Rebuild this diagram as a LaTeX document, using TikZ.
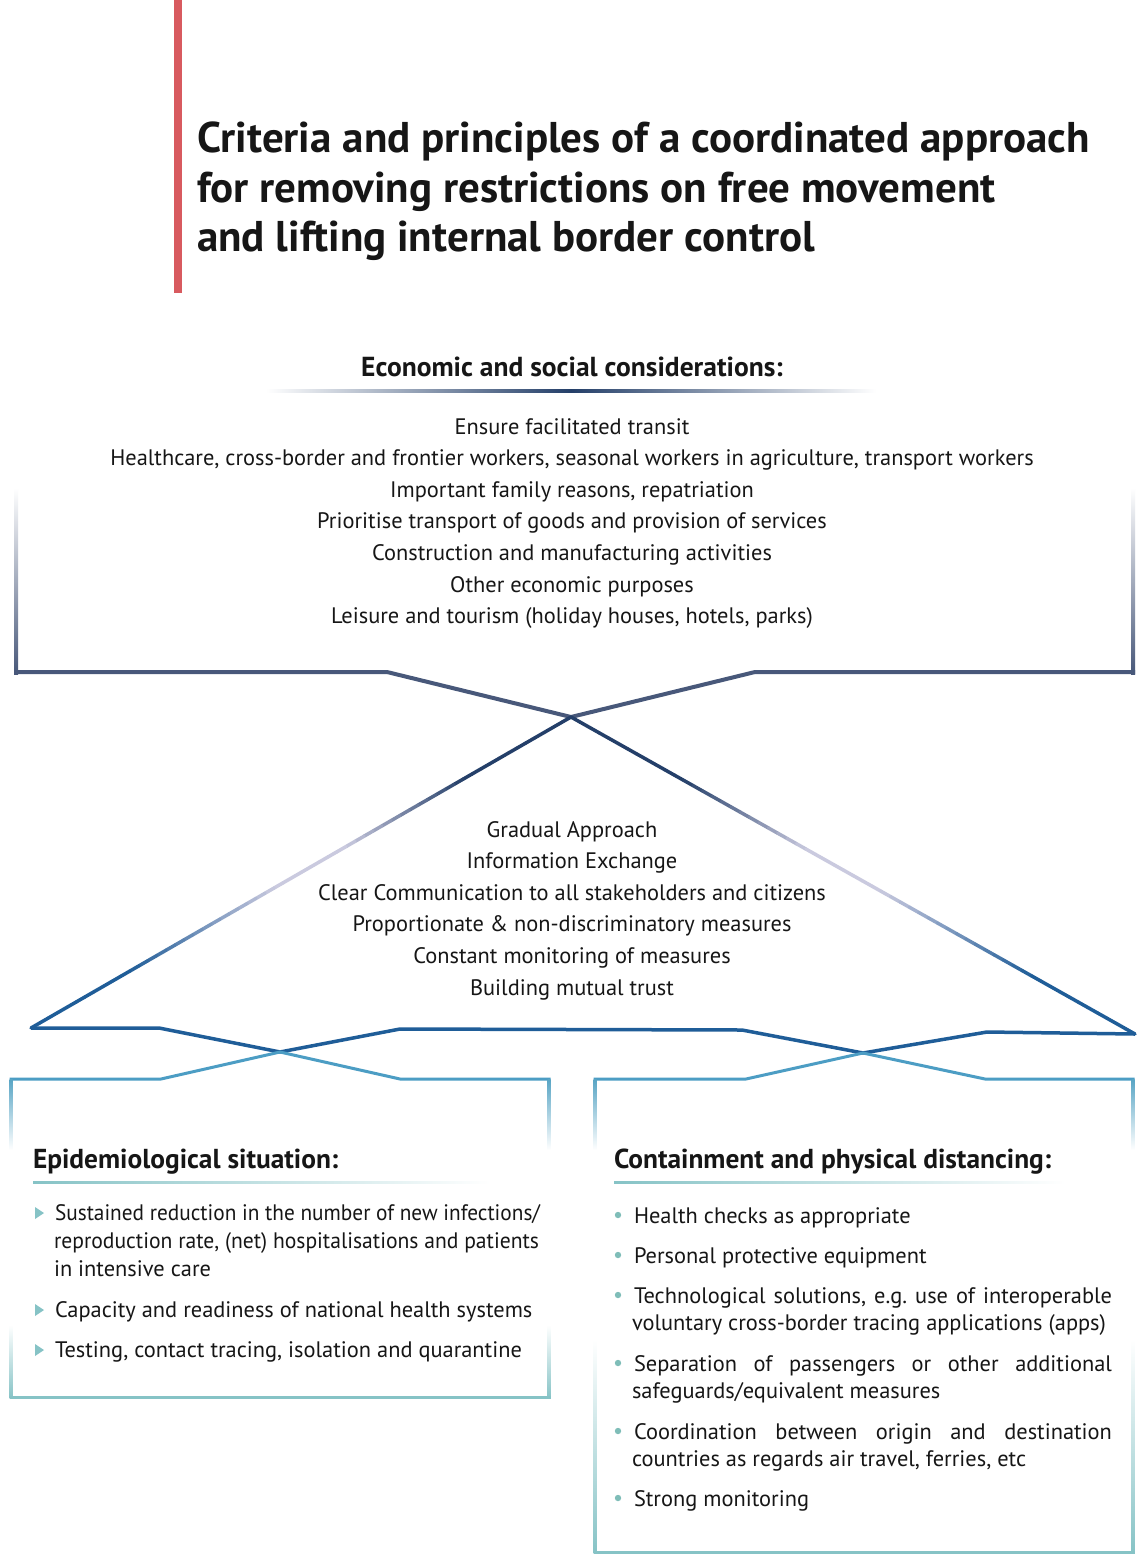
\documentclass[tikz,border=0pt]{standalone}
\usepackage{fontspec}
\usepackage{graphicx}
\setmainfont{PT Sans}
\usetikzlibrary{calc}
\frenchspacing
\definecolor{ink}{HTML}{161616}
\definecolor{redbar}{HTML}{D85A5F}
\definecolor{slate}{HTML}{48587A}
\definecolor{navyc}{HTML}{243F69}
\definecolor{lavc}{HTML}{CACADF}
\definecolor{blueT}{HTML}{1F5D98}
\definecolor{boxblue}{HTML}{4C9DC4}
\definecolor{boxteal}{HTML}{86C3C6}
\definecolor{bteal}{HTML}{7FBDB8}
\newcommand{\gradseg}[2]{%
  \foreach \i in {1,...,60}{%
    \pgfmathsetmacro\ta{(\i-1)/60}%
    \pgfmathsetmacro\tb{\i/60}%
    \pgfmathsetmacro\tm{(\i-0.5)/60}%
    \pgfmathsetmacro\pn{\tm<0.2 ? 100 : (\tm<0.42 ? 100-454.5*(\tm-0.2) : 0)}%
    \pgfmathsetmacro\pb{\tm<0.55 ? 0 : (\tm<0.82 ? 370*(\tm-0.55) : 100)}%
    \colorlet{tmpc}{navyc!\pn!lavc}%
    \colorlet{segc}{blueT!\pb!tmpc}%
    \draw[segc, line width=3.5pt, line cap=round] ($(#1)!\ta!(#2)$) -- ($(#1)!\tb!(#2)$);
  }}
\begin{document}
\begin{tikzpicture}[x=1pt,y=-1pt,
  every node/.style={inner sep=0pt, outer sep=0pt, text=ink},
  titletext/.style={font=\fontsize{43}{50}\selectfont\bfseries, anchor=base west},
  tophead/.style={font=\fontsize{27.5}{32}\selectfont\bfseries, anchor=base},
  item/.style={font=\fontsize{22.4}{26}\selectfont, anchor=base},
  boxhead/.style={font=\fontsize{27.4}{32}\selectfont\bfseries, anchor=base west},
  btext/.style={font=\fontsize{22.4}{26}\selectfont, anchor=base west},
  topline/.style={slate, line width=4pt, line join=miter},
  triline/.style={blueT, line width=3.5pt, line join=round},
  boxline/.style={boxblue, line width=3pt, line join=miter},
  tealline/.style={boxteal, line width=3pt}]
\useasboundingbox[fill=white] (0,0) rectangle (1144,1559);

% red bar and title
\fill[redbar] (174,0) rectangle (182,293);
\node[titletext] (t1) at (197,152) {Criteria and principles of a coordinated approach};
\node[titletext] (t2) at (197,202) {for removing restrictions on free movement};
\node[titletext] (t3) at (197,251) {and lifting internal border control};

% top section
\node[tophead] (eh) at (572,376) {Economic and social considerations:};
\shade[left color=white, right color=white, middle color=navyc] (266,389.5) rectangle (876,392);
\node[item] (e1) at (572,434) {Ensure facilitated transit};
\node[item] (e2) at (572,465.6) {Healthcare, cross-border and frontier workers, seasonal workers in agriculture, transport workers};
\node[item] (e3) at (572,497.2) {Important family reasons, repatriation};
\node[item] (e4) at (572,528.8) {Prioritise transport of goods and provision of services};
\node[item] (e5) at (572,560.4) {Construction and manufacturing activities};
\node[item] (e6) at (572,592) {Other economic purposes};
\node[item] (e7) at (572,623.6) {Leisure and tourism (holiday houses, hotels, parks)};

% top box
\coordinate (tlb) at (387,672);
\coordinate (x1) at (571,717);
\coordinate (trb) at (755,672);
\shade[top color=white, bottom color=slate] (14,488) rectangle (18,674);
\shade[top color=white, bottom color=slate] (1131,488) rectangle (1135,674);
\draw[topline] (14,672) -- (tlb) -- (x1) -- (trb) -- (1135,672);

% triangle
\coordinate (lc) at (31,1028);
\coordinate (rc) at (1135,1034);
\gradseg{x1}{lc}
\gradseg{x1}{rc}
\coordinate (b1) at (159,1028);
\coordinate (x2) at (280,1052);
\coordinate (b2) at (400,1029);
\coordinate (b3) at (742,1030);
\coordinate (x3) at (863,1053);
\coordinate (b4) at (987,1032);
\draw[triline] (lc) -- (b1) -- (x2) -- (b2) -- (b3) -- (x3) -- (b4) -- (rc);

\node[item] (m1) at (572,837) {Gradual Approach};
\node[item] (m2) at (572,868.6) {Information Exchange};
\node[item] (m3) at (572,900.2) {Clear Communication to all stakeholders and citizens};
\node[item] (m4) at (572,931.8) {Proportionate \& non-discriminatory measures};
\node[item] (m5) at (572,963.4) {Constant monitoring of measures};
\node[item] (m6) at (572,995) {Building mutual trust};

% left box
\draw[boxline] (9.5,1079) -- (161,1079) -- (x2) -- (400,1079) -- (550.5,1079);
\shade[top color=boxblue!80!boxteal, bottom color=white] (9.5,1079) rectangle (12.5,1150);
\shade[top color=boxblue!80!boxteal, bottom color=white] (547.5,1079) rectangle (550.5,1150);
\shade[top color=white, bottom color=boxteal] (9.5,1325) rectangle (12.5,1398.5);
\shade[top color=white, bottom color=boxteal] (547.5,1325) rectangle (550.5,1398.5);
\draw[tealline] (9.5,1397) -- (550.5,1397);

\node[boxhead] (lh) at (33,1168) {Epidemiological situation:};
\shade[left color=boxteal, right color=white] (33,1181) rectangle (490,1183);
\foreach \y in {1220,1317,1357}{\fill[boxteal] (35,\y-13) -- (35,\y-1) -- (44,\y-7) -- cycle;}
\node[btext] (l1a) at (55,1220) {\resizebox{485pt}{\height}{Sustained reduction in the number of new infections/}};
\node[btext] (l1b) at (54,1248) {\resizebox{485pt}{\height}{reproduction rate, (net) hospitalisations and patients}};
\node[btext] (l1c) at (54,1276) {in intensive care};
\node[btext] (l2) at (55,1317) {Capacity and readiness of national health systems};
\node[btext] (l3) at (55,1357) {Testing, contact tracing, isolation and quarantine};

% right box
\draw[boxline] (593.5,1079) -- (746,1079) -- (x3) -- (985,1079) -- (1134.5,1079);
\shade[top color=boxblue!80!boxteal, bottom color=white] (593.5,1079) rectangle (596.5,1150);
\shade[top color=boxblue!80!boxteal, bottom color=white] (1131.5,1079) rectangle (1134.5,1150);
\shade[top color=white, bottom color=boxteal] (593.5,1340) rectangle (596.5,1553.5);
\shade[top color=white, bottom color=boxteal] (1131.5,1340) rectangle (1134.5,1553.5);
\draw[tealline] (593.5,1552) -- (1134.5,1552);

\node[boxhead] (rh) at (614,1168) {Containment and physical distancing:};
\shade[left color=boxteal, right color=white] (614,1181) rectangle (1065,1183);
\foreach \y in {1223,1263,1303,1371,1439,1506}{\fill[bteal] (618,\y-8) circle (3.2);}
\node[btext] (r1) at (634,1223) {Health checks as appropriate};
\node[btext] (r2) at (634,1263) {Personal protective equipment};
\node[btext] (r3a) at (634,1303) {\makebox[478pt][s]{Technological solutions, e.g. use of interoperable}};
\node[btext] (r3b) at (632,1330) {voluntary cross-border tracing applications (apps)};
\node[btext] (r4a) at (634,1371) {\makebox[478pt][s]{Separation of passengers or other additional}};
\node[btext] (r4b) at (632,1398) {safeguards/equivalent measures};
\node[btext] (r5a) at (634,1439) {\makebox[478pt][s]{Coordination between origin and destination}};
\node[btext] (r5b) at (632,1466) {countries as regards air travel, ferries, etc};
\node[btext] (r6) at (634,1506) {Strong monitoring};
\end{tikzpicture}
\end{document}
